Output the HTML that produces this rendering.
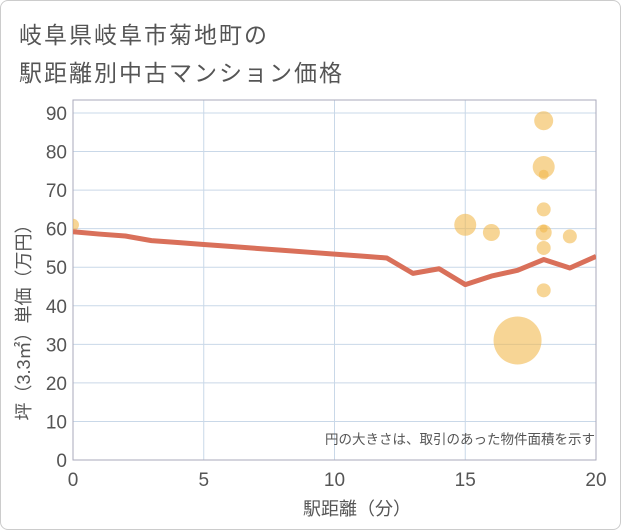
<!DOCTYPE html>
<html><head><meta charset="utf-8"><style>
body{margin:0;background:#fff;}
#wrap{width:619px;height:528px;border:1px solid #ccc;border-radius:8px;position:relative;overflow:hidden;background:#fff;font-family:"Liberation Sans","Noto Sans CJK JP",sans-serif;}
.t{position:absolute;left:18px;font-size:23px;color:#555;letter-spacing:2px;}
</style></head><body>
<div id="wrap">
<div class="t" style="top:15px">岐阜県岐阜市菊地町の</div>
<div class="t" style="top:53px">駅距離別中古マンション価格</div>
<svg id="c" width="621" height="530" style="position:absolute;left:-1px;top:-1px"></svg>
</div>
<script>
const lineX=[0,1,2,3,4,5,6,7,8,9,10,11,12,13,14,15,16,17,18,19,20];
const lineY=[59.2,58.6,58.1,56.9,56.4,55.9,55.4,54.9,54.4,53.9,53.4,52.9,52.4,48.4,49.6,45.5,47.7,49.2,52,49.8,52.8];
const bubX=[0,15,16,17,18,18,18,18,18,18,18,18,19];
const bubY=[61,61,59,31,88,76,74,65,60,59,55,44,58];
const bubR=[6,11,8.5,24,9.5,11,5,7,4,8,7,7,7];
const xTicks=[0,5,10,15,20];
const yTicks=[0,10,20,30,40,50,60,70,80,90];
const NS="http://www.w3.org/2000/svg";
const svg=document.getElementById('c');
const X0=73,X1=596,Y0=460,Y90=113;
const sx=v=>X0+(X1-X0)*v/20, sy=v=>Y0-(Y0-Y90)*v/90;
function mk(t,a,p){const e=document.createElementNS(NS,t);for(const k in a)e.setAttribute(k,a[k]);(p||svg).appendChild(e);return e;}
const clip=mk('clipPath',{id:'pc'});mk('rect',{x:X0,y:100,width:X1-X0,height:Y0-100},clip);
yTicks.forEach(v=>{
 const l=mk('line',{x1:X0,x2:X1,y1:sy(v),y2:sy(v),stroke:'#c9d8e8','stroke-width':1});
 
 
 const t=mk('text',{x:67,y:sy(v)+7,'text-anchor':'end','font-size':19,fill:'#555','font-family':'Liberation Sans,sans-serif'});t.textContent=v;
 
 
});
xTicks.forEach(v=>{
 const l=mk('line',{x1:sx(v),x2:sx(v),y1:100,y2:Y0,stroke:'#c9d8e8','stroke-width':1});
 
 
 const t=mk('text',{x:sx(v),y:486,'text-anchor':'middle','font-size':19,fill:'#555','font-family':'Liberation Sans,sans-serif'});t.textContent=v;
 
 
});
const fr=mk('rect',{x:X0,y:100,width:X1-X0,height:Y0-100,fill:'none',stroke:'#aab','stroke-width':1});


const g=mk('g',{'clip-path':'url(#pc)'});
bubX.forEach((x,i)=>{
 const c=mk('circle',{cx:sx(x),cy:sy(bubY[i]),r:bubR[i],fill:'#f2b94f','fill-opacity':0.6},g);
 
 
});
const p=mk('polyline',{points:lineX.map((x,i)=>sx(x)+','+sy(lineY[i])).join(' '),fill:'none',stroke:'#d9705a','stroke-width':5,'stroke-linejoin':'round'},g);


const xt=mk('text',{x:357,y:515,'text-anchor':'middle','font-size':18,fill:'#555','font-family':'Liberation Sans,Noto Sans CJK JP,sans-serif'});xt.textContent='駅距離（分）';


const yt=mk('text',{x:0,y:0,'text-anchor':'middle','font-size':18,fill:'#555','font-family':'Liberation Sans,Noto Sans CJK JP,sans-serif',transform:'translate(30,318) rotate(-90)'});yt.textContent='坪（3.3㎡）単価（万円）';


const nt=mk('text',{x:595,y:444,'text-anchor':'end','font-size':13.5,fill:'#555','font-family':'Liberation Sans,Noto Sans CJK JP,sans-serif'});nt.textContent='円の大きさは、取引のあった物件面積を示す';


</script>
</body></html>
